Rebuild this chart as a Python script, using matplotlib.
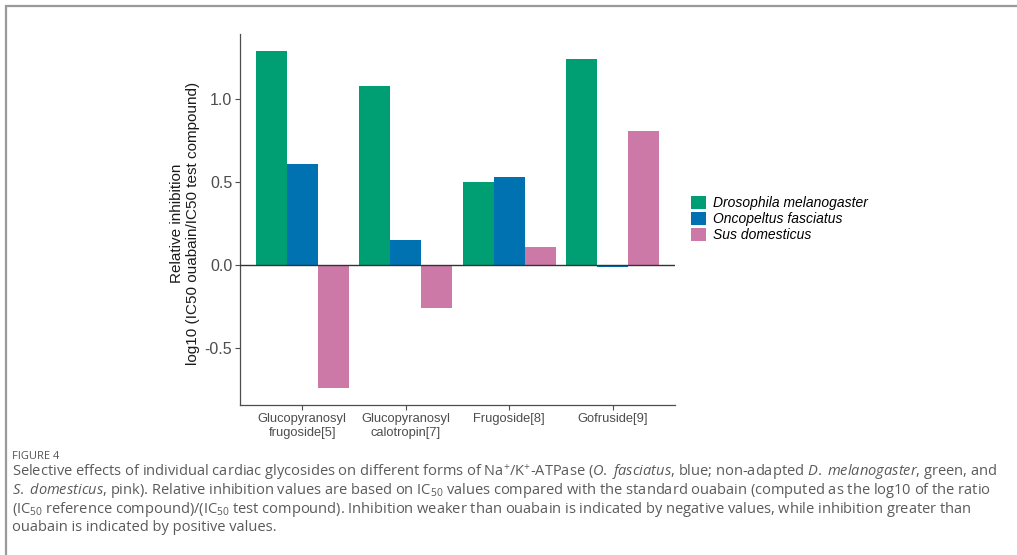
import matplotlib
matplotlib.use("Agg")
import matplotlib.pyplot as plt
import numpy as np
from matplotlib.patches import Rectangle, Patch

# Data: relative inhibition, log10(IC50 ouabain / IC50 test compound)
compounds = ["Glucopyranosyl\nfrugoside[5]", "Glucopyranosyl\ncalotropin[7]",
             "Frugoside[8]", "Gofruside[9]"]
species = ["Drosophila melanogaster", "Oncopeltus fasciatus", "Sus domesticus"]
drosophila = [1.29, 1.08, 0.50, 1.24]
oncopeltus = [0.61, 0.15, 0.53, -0.01]
sus = [-0.74, -0.26, 0.11, 0.81]
yticks = [-0.5, 0.0, 0.5, 1.0]
colors = ["#009E73", "#0072B2", "#CC79A7"]

plt.rcParams["mathtext.fontset"] = "custom"
plt.rcParams["mathtext.rm"] = "Open Sans"
plt.rcParams["mathtext.it"] = "Open Sans:italic"

W, H = 1017, 555
fig = plt.figure(figsize=(W / 100, H / 100), dpi=100)
fig.patch.set_facecolor("white")

def fx(px):
    return px / W

def fy(py):
    return 1 - py / H

ax = fig.add_axes([fx(240), fy(405), fx(675) - fx(240), fy(34) - fy(405)])

series = [drosophila, oncopeltus, sus]
x = np.arange(1, len(compounds) + 1)
bw = 0.9 / 3
for i, (vals, col) in enumerate(zip(series, colors)):
    ax.bar(x + (i - 1) * bw, vals, width=bw, color=col, edgecolor="none", zorder=2)

ax.axhline(0, color="#333333", lw=1.0, zorder=3)

ymin = min(min(s) for s in series)
ymax = max(max(s) for s in series)
pad = 0.05 * (ymax - ymin)
ax.set_ylim(ymin - pad, ymax + pad)
ax.set_xlim(0.4, len(compounds) + 0.6)

ax.set_xticks(x)
ax.set_xticklabels(compounds, fontsize=9.3, color="#4d4d4d", family="Liberation Sans",
                   linespacing=1.3)
ax.set_yticks(yticks)
ax.set_yticklabels([f"{t:.1f}" for t in yticks], fontsize=11.5, color="#4d4d4d",
                   family="Liberation Sans")
ax.tick_params(axis="both", length=3.5, width=0.8, color="#4d4d4d", pad=2)

for side in ["top", "right"]:
    ax.spines[side].set_visible(False)
for side in ["left", "bottom"]:
    ax.spines[side].set_color("#4d4d4d")
    ax.spines[side].set_linewidth(0.9)

fig.text(fx(185), fy(223), "Relative inhibition\nlog10 (IC50 ouabain/IC50 test compound)",
         rotation=90, ha="center", va="center", multialignment="center",
         fontsize=11, family="Liberation Sans", color="#1a1a1a", linespacing=1.12)

handles = [Patch(facecolor=c, edgecolor="none") for c in colors]
fig.legend(handles, species, loc="upper left", bbox_to_anchor=(fx(691), fy(196)),
           frameon=False, handlelength=1.1, handleheight=1.1, handletextpad=0.45,
           labelspacing=0.12, borderaxespad=0, borderpad=0,
           prop={"family": "Liberation Sans", "style": "italic", "size": 10})

# Figure frame
fig.add_artist(Rectangle((fx(5.5), -0.05), 1.2, fy(6) + 0.05, transform=fig.transFigure,
                         fill=False, edgecolor="#9a9a9a", lw=1.6))

# Caption
fig.text(fx(12), fy(459), "FIGURE 4", fontsize=8.0, family="Open Sans",
         color="#555555", ha="left", va="baseline")
caption = [
    r"Selective effects of individual cardiac glycosides on different forms of Na$^{+}$/K$^{+}$-ATPase ($\mathit{O.}$ $\mathit{fasciatus}$, blue; non-adapted $\mathit{D.}$ $\mathit{melanogaster}$, green, and",
    r"$\mathit{S.}$ $\mathit{domesticus}$, pink). Relative inhibition values are based on IC$_{50}$ values compared with the standard ouabain (computed as the log10 of the ratio",
    r"(IC$_{50}$ reference compound)/(IC$_{50}$ test compound). Inhibition weaker than ouabain is indicated by negative values, while inhibition greater than",
    "ouabain is indicated by positive values.",
]
for k, line in enumerate(caption):
    fig.text(fx(12), fy(476 + 18.4 * k), line, fontsize=10.5, family="Open Sans",
             color="#5a5a5a", ha="left", va="baseline")

fig.savefig("out.png", dpi=100, facecolor="white")
